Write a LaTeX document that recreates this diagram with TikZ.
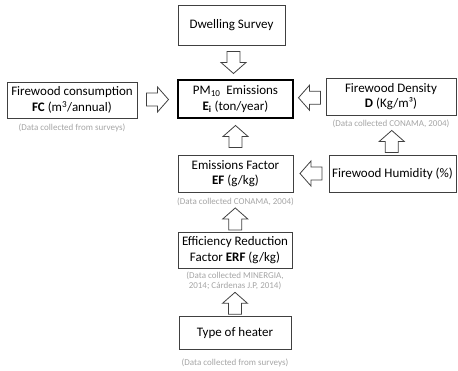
\documentclass[tikz,border=0pt]{standalone}
\usepackage{fontspec}
\setmainfont{Carlito}
\usetikzlibrary{calc}
\definecolor{notegray}{RGB}{165,165,165}
\definecolor{linegray}{RGB}{64,64,64}
% hollow block arrow, centred between two anchors, turned by #3 degrees
\newcommand{\blockarrow}[3]{\draw[hollowarrow,shift={($(#1)!0.5!(#2)$)},rotate=#3]
  (-11,-6.5) -- (0,-6.5) -- (0,-12.5) -- (11,0) -- (0,12.5) -- (0,6.5) -- (-11,6.5) -- cycle;}
\begin{document}
\begin{tikzpicture}[x=1pt,y=-1pt,inner sep=0pt,outer sep=0pt,
infoblock/.style={draw=linegray,rectangle,align=center,line width=0.9pt,font=\fontsize{13}{15.7}\selectfont},
mainblock/.style={infoblock,draw=black,line width=2pt},
datanote/.style={align=center,text=notegray,font=\fontsize{9}{10.5}\selectfont},
hollowarrow/.style={draw=linegray,line width=0.8pt,line join=miter}]
\useasboundingbox (0,0) rectangle (458,371);
\draw (231.5,25) node[infoblock,minimum width=107pt,minimum height=40pt] (dwell) {Dwelling Survey};
\draw (235.5,99) node[mainblock,minimum width=115pt,minimum height=38pt] (pm) {PM\textsubscript{10}\ \ Emissions\\\textbf{E\textsubscript{i}} (ton/year)};
\draw (72,100) node[infoblock,minimum width=130pt,minimum height=36pt] (fc) {Firewood consumption\\\textbf{FC} (m\textsuperscript{3}/annual)};
\draw (72,128) node[datanote] (fcnote) {(Data collected from surveys)};
\draw (391,96.5) node[infoblock,minimum width=130pt,minimum height=37pt] (dens) {Firewood Density\\\textbf{D} (Kg/m³)};
\draw (391,124) node[datanote] (densnote) {(Data collected CONAMA, 2004)};
\draw (392.5,173.5) node[infoblock,minimum width=127pt,minimum height=37pt] (hum) {Firewood Humidity (\%)};
\draw (235.5,173.5) node[infoblock,minimum width=115pt,minimum height=37pt] (ef) {Emissions Factor\\\textbf{EF} (g/kg)};
\draw (235.5,202) node[datanote] (efnote) {(Data collected CONAMA, 2004)};
\draw (235,250) node[infoblock,minimum width=114pt,minimum height=36pt] (erf) {Efficiency Reduction\\Factor \textbf{ERF} (g/kg)};
\draw (235,281) node[datanote] (erfnote) {(Data collected MINERGIA,\\2014; Cárdenas J.P, 2014)};
\draw (235,333) node[infoblock,minimum width=112pt,minimum height=33pt] (heat) {Type of heater};
\draw (235,363) node[datanote] (heatnote) {(Data collected from surveys)};
% block arrows
\blockarrow{dwell.south}{pm.north}{-90}
\blockarrow{fc.east}{pm.west}{0}
\blockarrow{dens.west}{pm.east}{180}
\blockarrow{densnote.south}{hum.north}{90}
\blockarrow{hum.west}{ef.east}{180}
\blockarrow{pm.south}{ef.north}{90}
\blockarrow{efnote.south}{erf.north}{90}
\blockarrow{erfnote.south}{heat.north}{90}
\end{tikzpicture}
\end{document}
